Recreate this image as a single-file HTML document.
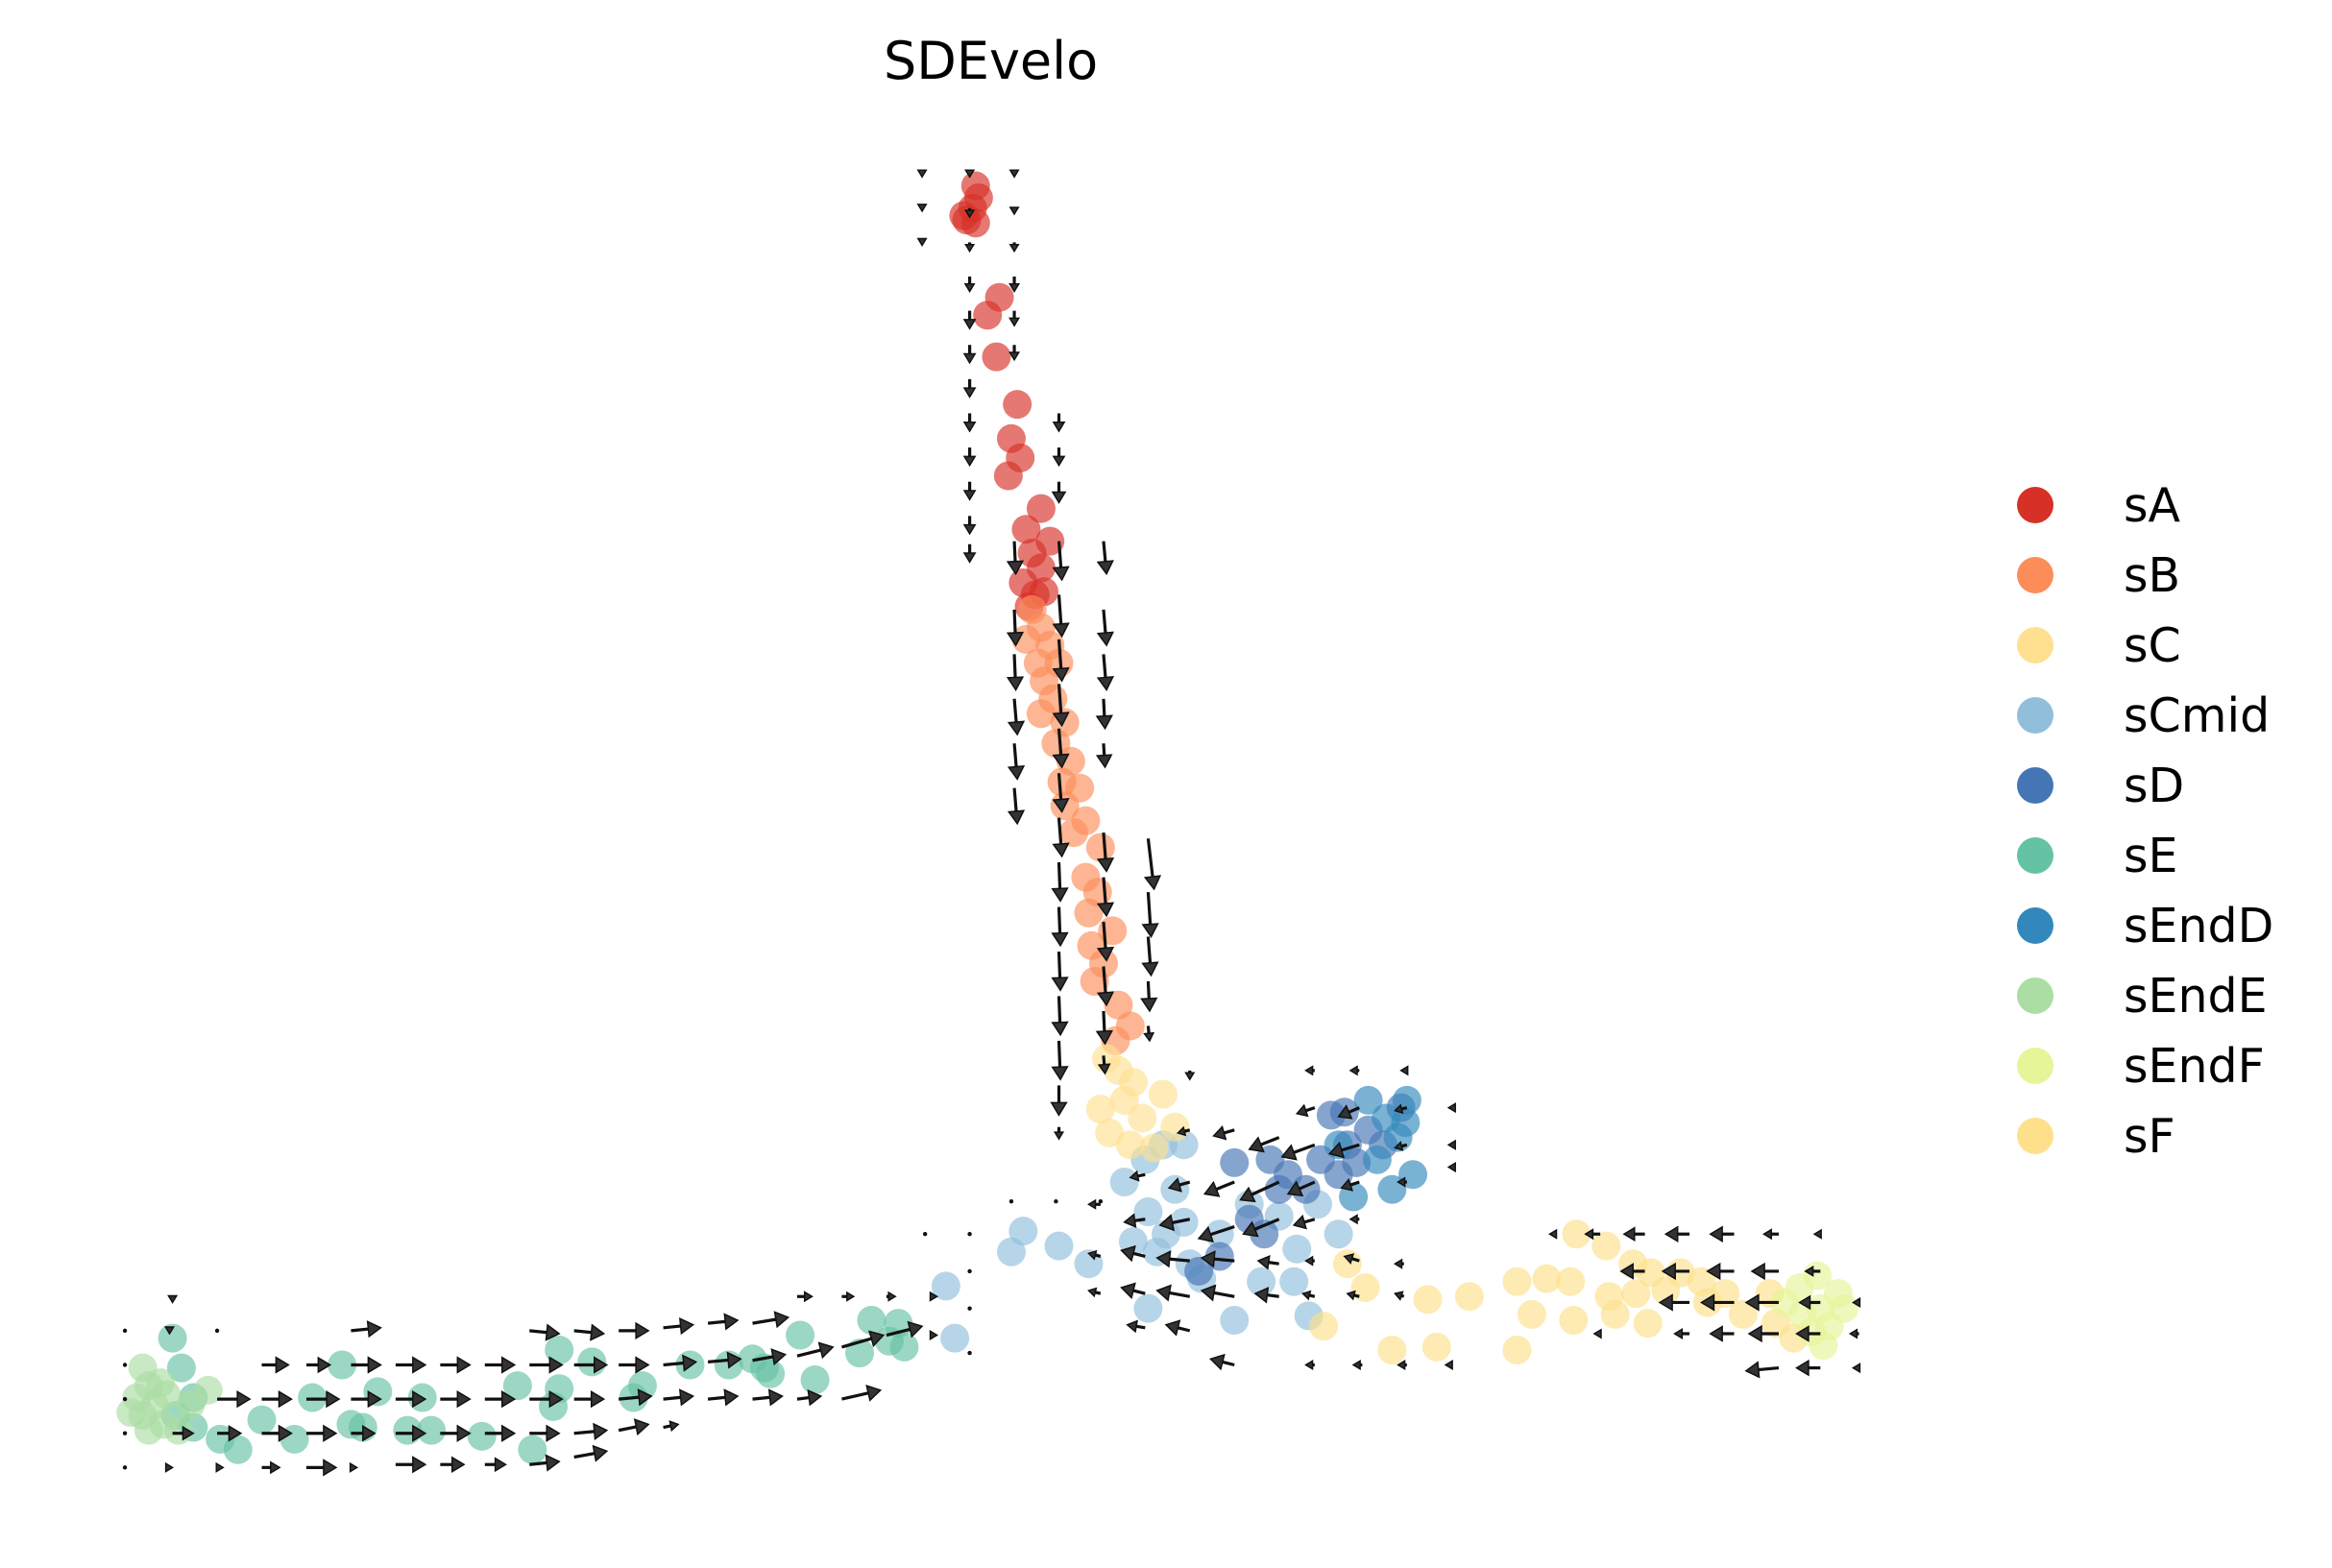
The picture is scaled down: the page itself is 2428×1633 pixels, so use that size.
<!DOCTYPE html>
<html><head><meta charset="utf-8"><style>
html,body{margin:0;padding:0;background:#fff;}
svg{display:block;font-family:"DejaVu Sans","Liberation Sans",sans-serif;}
</style></head><body>
<svg id="chart" width="2428" height="1633" viewBox="0 0 2428 1633" xmlns="http://www.w3.org/2000/svg">
<text x="920" y="82" font-size="54" fill="#000">SDEvelo</text>
<g id="points"></g>
<g id="arrows"></g>
<g id="legend"></g>
</svg>
<script>
const NS="http://www.w3.org/2000/svg";
const categories=["sA","sB","sC","sCmid","sD","sE","sEndD","sEndE","sEndF","sF"];
const colors={sA:"#d73027",sB:"#fc8d59",sC:"#fee090",sCmid:"#91bfdb",sD:"#4575b4",sE:"#66c2a5",sEndD:"#3288bd",sEndE:"#abdda4",sEndF:"#e6f598",sF:"#fee08b"};
const ptsA=[[656,125],[658,133],[654,140],[650,148],[656,150],[648,145],[672,200],[664,212],[670,240],[684,272],[680,295],[686,308],[678,320],[700,342],[690,356],[706,364],[694,372],[700,382],[688,392],[702,398],[692,408],[696,400]];
const ptsB=[[694,410],[700,422],[690,430],[706,434],[698,446],[712,446],[702,458],[708,470],[700,480],[716,486],[710,500],[720,512],[714,526],[726,530],[716,542],[730,552],[722,560],[740,570],[730,590],[738,600],[732,614],[748,626],[734,636],[742,648],[736,660],[752,676],[760,690],[750,700]];
const ptsC=[[744,712],[752,720],[762,728],[740,746],[756,740],[768,752],[746,762],[760,770],[782,736],[790,758],[776,772]];
const ptsCmid=[[756,795],[770,780],[782,770],[790,800],[772,815],[784,830],[796,822],[778,842],[800,850],[688,828],[680,842],[712,838],[732,850],[636,865],[642,900],[772,880],[848,862],[830,888],[880,885],[870,862],[820,830],[796,770],[762,835],[808,860],[860,818],[886,810],[900,830],[872,840],[840,810]];
const ptsD=[[806,855],[820,845],[830,782],[854,780],[860,800],[840,820],[850,830],[878,800],[900,790],[906,770],[920,760],[895,750],[912,782],[930,770],[888,780],[866,790],[942,745],[904,748]];
const ptsE=[[116,900],[122,920],[130,940],[118,952],[148,968],[160,975],[176,955],[198,968],[210,940],[230,918],[254,936],[244,960],[274,962],[290,962],[324,966],[284,940],[358,975],[348,932],[372,946],[376,908],[398,916],[376,934],[426,940],[432,932],[464,918],[490,918],[506,914],[518,924],[538,898],[548,928],[578,910],[586,888],[598,902],[604,890],[608,906],[514,920],[236,958],[130,960]];
const ptsEndD=[[920,740],[932,752],[946,740],[940,765],[926,780],[950,790],[936,800],[910,805],[900,770],[945,755]];
const ptsEndE=[[96,920],[100,932],[92,940],[104,945],[96,952],[110,958],[100,962],[120,962],[88,950],[108,930],[128,945],[140,935],[112,938]];
const ptsEndF=[[1210,866],[1222,858],[1236,870],[1224,880],[1212,884],[1230,892],[1218,896],[1226,905],[1240,880],[1200,876]];
const ptsF=[[906,850],[918,866],[890,892],[936,908],[966,906],[960,874],[988,872],[1020,862],[1030,884],[1040,860],[1056,862],[1058,888],[1020,908],[1080,838],[1098,850],[1110,856],[1100,870],[1086,884],[1120,868],[1130,856],[1148,876],[1160,870],[1172,884],[1144,862],[1108,890],[1082,872],[1194,890],[1190,870],[1206,900],[1060,830]];
const arrowsData=[[620,117,0,2],[620,140,0,2],[620,163,0,2],[652,117,0,2],[652,140,0,6],[652,163,0,6],[682,117,0,2],[682,140,0,4],[682,163,0,6],
[652,186,0,10],[652,209,0,12],[652,232,0,12],[652,255,0,12],[652,278,0,12],[652,301,0,12],[652,324,0,12],[652,347,0,12],[652,366,0,12],
[682,186,0,10],[682,209,0,10],[682,232,0,10],[712,278,0,12],[712,301,0,12],[712,324,0,14],
[742,364,2,22],[742,410,2,24],[742,440,2,24],[742,470,1,20],[742,500,1,16],
[682,364,1,22],[682,410,1,24],[682,440,1,24],[682,470,2,24],[682,500,2,24],[682,530,2,24],
[712,364,2,26],[712,400,2,28],[712,430,2,28],[712,460,2,28],[712,490,2,26],[712,520,2,26],[712,550,2,26],[712,580,1,26],[712,610,1,26],[712,640,1,26],[712,670,1,26],[712,700,1,26],[712,730,0,20],[712,758,0,8],
[742,560,2,26],[742,590,2,26],[742,620,2,26],[742,650,2,26],[742,680,1,22],[742,710,1,12],
[772,564,4,34],[772,600,2,30],[772,630,2,26],[772,660,1,20],[772,690,1,10],
[800,720,0,6],[884,720,-6,0],[914,720,-6,0],[946,720,-4,0],[884,745,-12,4],[914,745,-14,6],[946,745,-8,2],[976,745,-2,0],
[800,760,-8,2],[830,760,-14,4],[860,765,-20,8],[884,770,-22,8],[914,770,-20,6],[946,770,-8,2],[976,770,-2,0],
[770,790,-10,2],[800,795,-14,4],[830,795,-20,8],[860,795,-26,12],[884,795,-18,8],[914,795,-12,4],[946,795,-6,0],[976,785,-2,0],
[740,810,-8,0],[770,820,-14,2],[800,820,-20,4],[830,825,-24,8],[860,820,-24,10],[884,820,-14,4],[914,820,-6,0],
[740,845,-8,-2],[770,845,-16,-4],[800,848,-22,-2],[830,848,-22,-2],[860,850,-14,-2],[884,848,-6,0],[914,848,-10,-3],[944,850,-6,0],
[740,870,-8,-2],[770,870,-16,-4],[800,872,-22,-4],[830,872,-22,-4],[860,872,-16,-2],[884,872,-8,-2],[914,872,-8,-2],[944,872,-6,-2],
[770,893,-12,-2],[800,895,-16,-4],[830,918,-16,-4],[884,918,-6,0],[916,918,-6,0],[946,918,-6,0],[976,918,-4,0],
[1046,830,-4,0],[1076,830,-10,0],[1106,830,-14,0],[1136,830,-16,0],[1166,830,-16,0],[1196,830,-10,0],[1224,830,-4,0],
[1106,855,-16,0],[1136,855,-18,0],[1166,855,-18,0],[1196,855,-18,0],[1224,855,-10,0],
[1136,876,-20,0],[1166,876,-22,0],[1196,876,-22,0],[1224,876,-14,0],[1250,876,-4,0],
[1076,897,-4,0],[1136,897,-10,0],[1166,897,-16,0],[1196,897,-20,0],[1224,897,-16,0],[1250,897,-6,0],
[1196,920,-22,2],[1224,920,-16,0],[1250,920,-4,0],
[84,895,0,0],[114,895,0,2],[146,895,0,0],[116,872,0,4],[236,895,20,-2],
[176,918,18,0],[206,918,16,0],[236,918,20,0],[266,918,20,0],[296,918,20,0],
[356,895,20,2],[386,895,20,2],[416,895,20,0],[446,893,20,-2],[476,890,20,-2],[506,890,24,-4],[536,872,10,0],[566,872,8,0],[596,872,6,0],
[326,918,20,0],[356,918,22,0],[386,918,22,0],[416,918,20,0],[446,918,22,-2],[476,916,22,-2],[506,915,22,-4],[536,912,24,-6],[566,906,28,-8],[596,898,24,-6],[626,898,4,0],[626,872,4,0],
[146,941,22,0],[176,941,20,0],[206,941,22,0],[236,941,20,0],[266,941,20,0],[296,941,20,0],[326,941,20,0],[356,941,22,0],[386,941,20,0],[416,941,22,-2],[446,941,20,-2],[476,941,20,-2],[506,941,20,-2],[536,941,16,-2],[566,941,26,-6],
[116,964,14,0],[146,964,16,0],[176,964,20,0],[206,964,20,0],[236,964,16,0],[266,964,20,0],[296,964,20,0],[326,964,20,0],[356,964,20,0],[386,964,22,-2],[416,962,20,-4],[446,960,10,-2],
[84,918,0,0],[84,941,0,0],[84,964,0,0],[84,987,0,0],[114,987,2,0],[146,987,4,0],[176,987,12,0],[206,987,20,0],[236,987,4,0],[266,985,20,0],[296,985,16,0],[326,985,14,0],[356,985,20,-2],[386,980,22,-4],
[652,830,0,0],[652,855,0,0],[652,880,0,0],[652,910,0,0],[680,808,0,0],[710,808,0,0],[740,808,0,0],[622,830,0,0]];
const S=2428/1568;
function sx(v){return v*S;}
function sy(v){return v*S;}
const pg=document.getElementById('points');
const groups=[["sCmid",ptsCmid],["sF",ptsF],["sEndF",ptsEndF],["sE",ptsE],["sEndE",ptsEndE],["sA",ptsA],["sB",ptsB],["sC",ptsC],["sD",ptsD],["sEndD",ptsEndD]];
groups.forEach(([cat,arr])=>{
  arr.forEach(p=>{
    const c=document.createElementNS(NS,'circle');
    
    
    c.setAttribute('cx',sx(p[0]));c.setAttribute('cy',sy(p[1]));c.setAttribute('r',15);
    c.setAttribute('fill',colors[cat]);c.setAttribute('fill-opacity','0.65');
    pg.appendChild(c);
  });
});
const ag=document.getElementById('arrows');
arrowsData.forEach(a=>{
  const x0=sx(a[0]),y0=sy(a[1]),dx=a[2]*S,dy=a[3]*S;
  const L=Math.hypot(dx,dy);
  const g=document.createElementNS(NS,'g');
  
  
  if(L<1){
    const c=document.createElementNS(NS,'circle');
    c.setAttribute('cx',x0);c.setAttribute('cy',y0);c.setAttribute('r',2.2);c.setAttribute('fill','#111');
    g.appendChild(c);
  }else{
    const ux=dx/L,uy=dy/L,h=Math.min(13,Math.max(7,L*0.5)),w=h*0.6;
    const x1=x0+dx,y1=y0+dy,bx=x1-ux*h,by=y1-uy*h;
    const ln=document.createElementNS(NS,'line');
    ln.setAttribute('x1',x0);ln.setAttribute('y1',y0);ln.setAttribute('x2',bx+ux*2);ln.setAttribute('y2',by+uy*2);
    ln.setAttribute('stroke','#111');ln.setAttribute('stroke-width','3.2');
    g.appendChild(ln);
    const hd=document.createElementNS(NS,'polygon');
    hd.setAttribute('points',`${x1},${y1} ${bx-uy*w},${by+ux*w} ${bx+uy*w},${by-ux*w}`);
    hd.setAttribute('fill','#333');hd.setAttribute('stroke','#111');hd.setAttribute('stroke-width','1.5');
    g.appendChild(hd);
  }
  ag.appendChild(g);
});
const lg=document.getElementById('legend');
const legendY=[526,599,672,745,818,891,964,1037,1110,1183];
categories.forEach((cat,i)=>{
  const g=document.createElementNS(NS,'g');
  
  
  const c=document.createElementNS(NS,'circle');
  c.setAttribute('cx',2119);c.setAttribute('cy',legendY[i]);c.setAttribute('r',19);c.setAttribute('fill',colors[cat]);
  g.appendChild(c);
  const t=document.createElementNS(NS,'text');
  t.setAttribute('x',2211);t.setAttribute('y',legendY[i]+17);t.setAttribute('font-size','49');t.setAttribute('fill','#000');
  t.textContent=cat;
  g.appendChild(t);
  lg.appendChild(g);
});
</script>
</body></html>
